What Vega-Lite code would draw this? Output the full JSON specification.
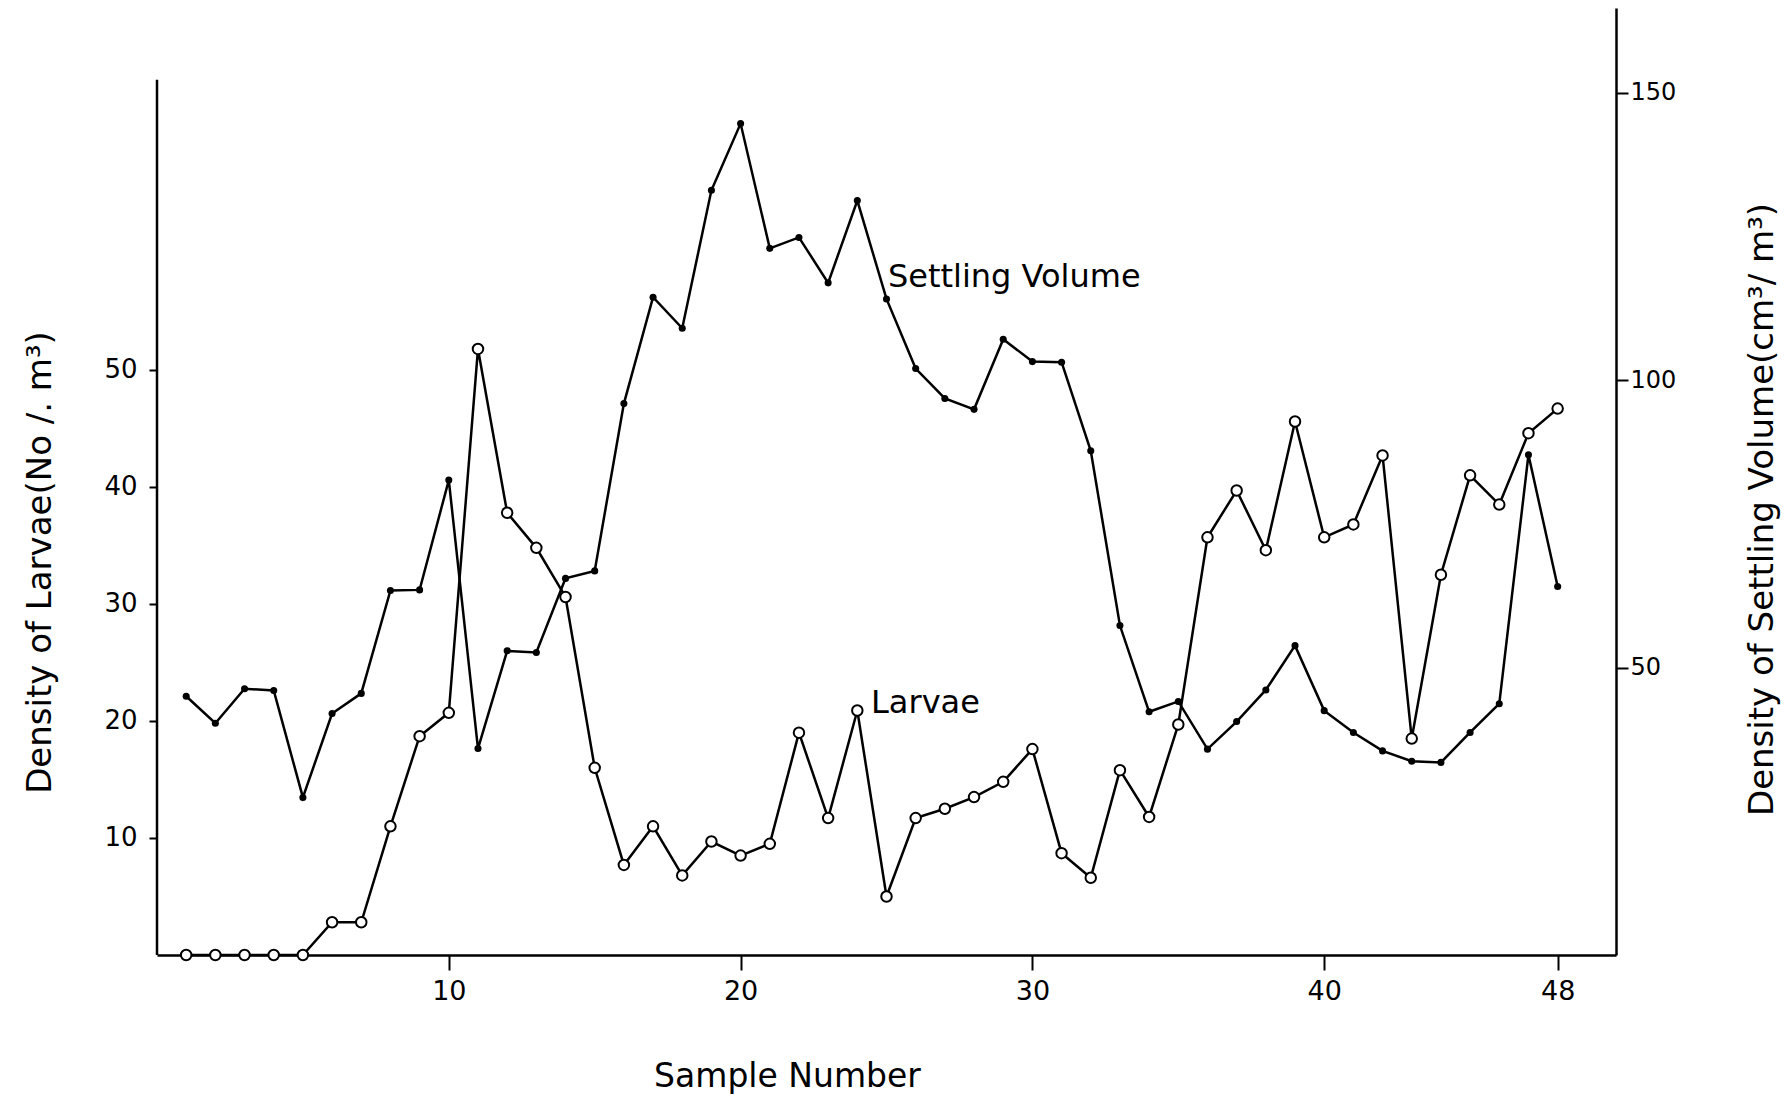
{
  "$schema": "https://vega.github.io/schema/vega-lite/v6.json",
  "width": 1459,
  "height": 947,
  "autosize": {"type": "none"},
  "padding": {"left": 157, "top": 8, "right": 169, "bottom": 143},
  "background": "white",
  "config": {
    "view": {"stroke": null},
    "font": "DejaVu Sans",
    "axis": {"grid": false, "domainColor": "black", "tickColor": "black", "labelColor": "black", "titleColor": "black", "domainWidth": 2.5, "tickWidth": 2, "labelFont": "DejaVu Sans", "titleFont": "DejaVu Sans", "titleFontWeight": "normal"}
  },
  "data": {
    "values": [
      {"sample": 1, "larvae": 0, "settling": 45.0},
      {"sample": 2, "larvae": 0, "settling": 40.3},
      {"sample": 3, "larvae": 0, "settling": 46.3},
      {"sample": 4, "larvae": 0, "settling": 46.0},
      {"sample": 5, "larvae": 0, "settling": 27.4},
      {"sample": 6, "larvae": 2.8, "settling": 42.0},
      {"sample": 7, "larvae": 2.8, "settling": 45.5},
      {"sample": 8, "larvae": 11.0, "settling": 63.4},
      {"sample": 9, "larvae": 18.7, "settling": 63.5},
      {"sample": 10, "larvae": 20.7, "settling": 82.6},
      {"sample": 11, "larvae": 51.8, "settling": 35.9},
      {"sample": 12, "larvae": 37.8, "settling": 52.9},
      {"sample": 13, "larvae": 34.8, "settling": 52.6},
      {"sample": 14, "larvae": 30.6, "settling": 65.5},
      {"sample": 15, "larvae": 16.0, "settling": 66.8},
      {"sample": 16, "larvae": 7.7, "settling": 95.9},
      {"sample": 17, "larvae": 11.0, "settling": 114.4},
      {"sample": 18, "larvae": 6.8, "settling": 109.0},
      {"sample": 19, "larvae": 9.7, "settling": 133.0},
      {"sample": 20, "larvae": 8.5, "settling": 144.6},
      {"sample": 21, "larvae": 9.5, "settling": 122.9},
      {"sample": 22, "larvae": 19.0, "settling": 124.8},
      {"sample": 23, "larvae": 11.7, "settling": 116.9},
      {"sample": 24, "larvae": 20.9, "settling": 131.2},
      {"sample": 25, "larvae": 5.0, "settling": 114.1},
      {"sample": 26, "larvae": 11.7, "settling": 102.0},
      {"sample": 27, "larvae": 12.5, "settling": 96.8},
      {"sample": 28, "larvae": 13.5, "settling": 94.9},
      {"sample": 29, "larvae": 14.8, "settling": 107.1},
      {"sample": 30, "larvae": 17.6, "settling": 103.2},
      {"sample": 31, "larvae": 8.7, "settling": 103.1},
      {"sample": 32, "larvae": 6.6, "settling": 87.7},
      {"sample": 33, "larvae": 15.8, "settling": 57.3},
      {"sample": 34, "larvae": 11.8, "settling": 42.3},
      {"sample": 35, "larvae": 19.7, "settling": 44.1},
      {"sample": 36, "larvae": 35.7, "settling": 35.8},
      {"sample": 37, "larvae": 39.7, "settling": 40.6},
      {"sample": 38, "larvae": 34.6, "settling": 46.1},
      {"sample": 39, "larvae": 45.6, "settling": 53.8},
      {"sample": 40, "larvae": 35.7, "settling": 42.5},
      {"sample": 41, "larvae": 36.8, "settling": 38.7},
      {"sample": 42, "larvae": 42.7, "settling": 35.5},
      {"sample": 43, "larvae": 18.5, "settling": 33.7},
      {"sample": 44, "larvae": 32.5, "settling": 33.5},
      {"sample": 45, "larvae": 41.0, "settling": 38.7},
      {"sample": 46, "larvae": 38.5, "settling": 43.7},
      {"sample": 47, "larvae": 44.6, "settling": 87.0},
      {"sample": 48, "larvae": 46.7, "settling": 64.1}
    ]
  },
  "encoding": {
    "x": {
      "field": "sample",
      "type": "quantitative",
      "scale": {"domain": [0, 50], "nice": false, "zero": false},
      "axis": {
        "values": [10, 20, 30, 40, 48],
        "title": "Sample Number",
        "titleFontSize": 33,
        "titleX": 630,
        "titleY": 121,
        "titleAlign": "center",
        "titleBaseline": "middle",
        "labelFontSize": 27,
        "tickSize": 15,
        "labelPadding": 8,
        "orient": "bottom"
      }
    }
  },
  "layer": [
    {
      "layer": [
        {
          "mark": {"type": "line", "color": "black", "strokeWidth": 2.5},
          "encoding": {
            "y": {
              "field": "settling",
              "type": "quantitative",
              "scale": {"domain": [0, 164.7], "nice": false},
              "axis": {
                "orient": "right",
                "values": [50, 100, 150],
                "title": "Density of Settling Volume(cm³/ m³)",
                "titleFontSize": 34,
                "titleAngle": 270,
                "titleX": 146,
                "titleY": 501,
                "titleAlign": "center",
                "titleBaseline": "middle",
                "labelFontSize": 24,
                "tickSize": 12,
                "labelPadding": 2
              }
            }
          }
        },
        {
          "mark": {"type": "circle", "color": "black", "size": 50, "opacity": 1},
          "encoding": {"y": {"field": "settling", "type": "quantitative"}}
        },
        {
          "transform": [{"filter": "datum.sample == 25"}],
          "mark": {"type": "text", "text": "Settling Volume", "align": "left", "baseline": "middle", "fontSize": 32, "fontWeight": "normal", "color": "black", "font": "DejaVu Sans"},
          "encoding": {"x": {"datum": 25.05}, "y": {"datum": 117.9}}
        }
      ]
    },
    {
      "layer": [
        {
          "transform": [{"filter": "datum.sample == 1"}],
          "mark": {"type": "rule", "color": "black", "strokeWidth": 2.5},
          "encoding": {"x": {"datum": 0}, "y": {"datum": 0}, "y2": {"datum": 74.8}}
        },
        {
          "mark": {"type": "line", "color": "black", "strokeWidth": 2.5},
          "encoding": {
            "y": {
              "field": "larvae",
              "type": "quantitative",
              "scale": {"domain": [0, 80.94], "nice": false},
              "axis": {
                "orient": "left",
                "values": [10, 20, 30, 40, 50],
                "domain": false,
                "title": "Density of Larvae(No /. m³)",
                "titleFontSize": 34,
                "titleAngle": 270,
                "titleX": -117,
                "titleY": 554,
                "titleAlign": "center",
                "titleBaseline": "middle",
                "labelFontSize": 26,
                "tickSize": 8,
                "labelPadding": 12
              }
            }
          }
        },
        {
          "mark": {"type": "point", "shape": "circle", "filled": true, "fill": "white", "stroke": "black", "strokeWidth": 2, "size": 110, "opacity": 1},
          "encoding": {"y": {"field": "larvae", "type": "quantitative"}}
        },
        {
          "transform": [{"filter": "datum.sample == 24"}],
          "mark": {"type": "text", "text": "Larvae", "align": "left", "baseline": "middle", "fontSize": 32, "fontWeight": "normal", "color": "black", "font": "DejaVu Sans"},
          "encoding": {"x": {"datum": 24.47}, "y": {"datum": 21.5}}
        }
      ]
    }
  ],
  "resolve": {"scale": {"y": "independent"}, "axis": {"y": "independent"}}
}
